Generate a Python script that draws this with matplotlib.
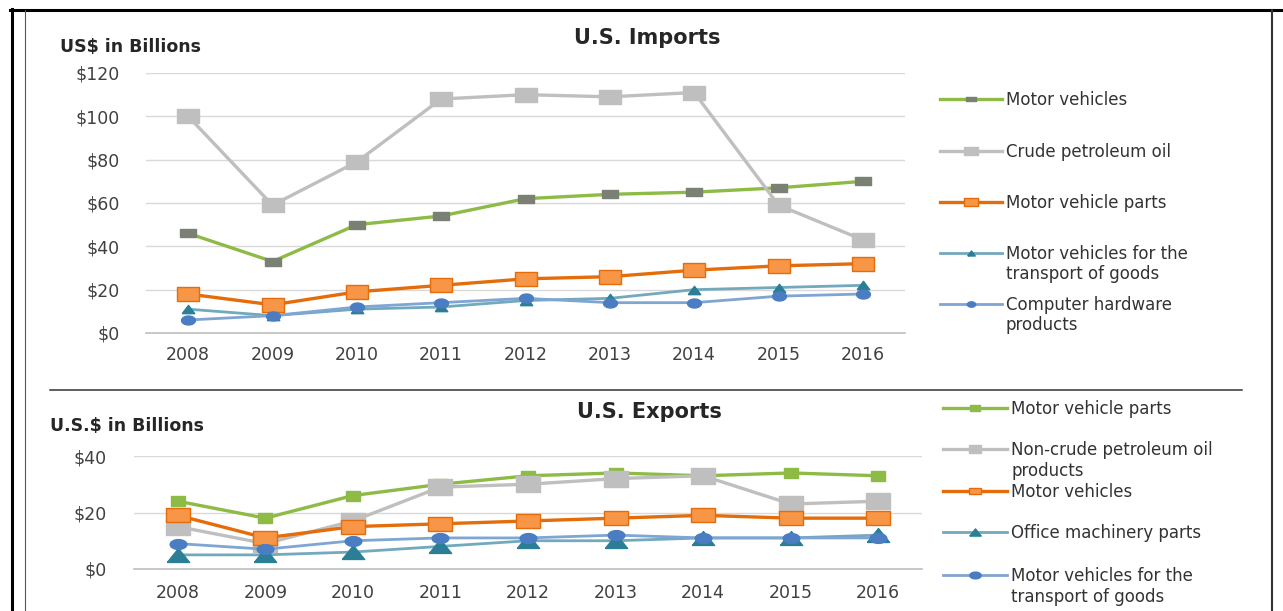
import matplotlib
matplotlib.use('Agg')
import matplotlib.pyplot as plt
from matplotlib.lines import Line2D
import numpy as np

plt.rcParams['font.family'] = ['DejaVu Sans']

W, H = 1283, 611

years = ['2008', '2009', '2010', '2011', '2012', '2013', '2014', '2015', '2016']

# imports, US$ billions
imp_motor_vehicles = [46, 33, 50, 54, 62, 64, 65, 67, 70]
imp_crude_oil = [100, 59, 79, 108, 110, 109, 111, 59, 43]
imp_vehicle_parts = [18, 13, 19, 22, 25, 26, 29, 31, 32]
imp_transport_goods = [11, 8, 11, 12, 15, 16, 20, 21, 22]
imp_computer_hw = [6, 8, 12, 14, 16, 14, 14, 17, 18]

# exports, US$ billions
exp_vehicle_parts = [24, 18, 26, 30, 33, 34, 33, 34, 33]
exp_noncrude_oil = [15, 9, 17, 29, 30, 32, 33, 23, 24]
exp_motor_vehicles = [19, 11, 15, 16, 17, 18, 19, 18, 18]
exp_office_parts = [5, 5, 6, 8, 10, 10, 11, 11, 12]
exp_transport_goods = [9, 7, 10, 11, 11, 12, 11, 11, 11]

imp_labels = ['Motor vehicles', 'Crude petroleum oil', 'Motor vehicle parts',
              'Motor vehicles for the\ntransport of goods',
              'Computer hardware\nproducts']
exp_labels = ['Motor vehicle parts', 'Non-crude petroleum oil\nproducts',
              'Motor vehicles', 'Office machinery parts',
              'Motor vehicles for the\ntransport of goods']

# the source picture is stretched sideways, so the markers are too
def wide(shape, r):
    if shape == 's':
        return [(-r, -1), (r, -1), (r, 1), (-r, 1), (-r, -1)]
    if shape == '^':
        return [(-r, -1), (r, -1), (0, 1), (-r, -1)]
    t = np.linspace(0, 2 * np.pi, 40)
    return list(zip(r * np.cos(t), np.sin(t)))

GREEN = '#8DBB45'
GRAY = '#BFBFBF'
ORANGE = '#E46C0A'
ORANGE_F = '#F79646'
TEAL = '#72A9BD'
TEAL_M = '#2A7E95'
BLUE = '#7FA5D3'
BLUE_M = '#4A7DC2'
TXT = '#333333'
LEG_FS = 12
FS_PX = LEG_FS * 100 / 72


def px_axes(l, t, r, b):
    return fig.add_axes([l / W, 1 - b / H, (r - l) / W, (b - t) / H])


def style(ax, top, ypad, xpad, step):
    ax.set_xlim(-0.5, 8.5)
    ax.set_ylim(0, top)
    ax.set_yticks(range(0, top + 1, step))
    ax.set_yticklabels(['$' + str(v) for v in range(0, top + 1, step)])
    ax.set_xticks(range(len(years)))
    ax.set_xticklabels(years)
    for s in ['top', 'right', 'left']:
        ax.spines[s].set_visible(False)
    ax.spines['bottom'].set_color('#BFBFBF')
    ax.spines['bottom'].set_linewidth(1.2)
    ax.yaxis.grid(True, color='#D9D9D9', lw=1)
    ax.set_axisbelow(True)
    ax.tick_params(axis='y', length=0, pad=ypad, labelsize=12.5, colors='#404040')
    ax.tick_params(axis='x', length=0, pad=xpad, labelsize=12.5, colors='#404040')


def add_legend(handle, label, x, y, hl, gap):
    lines = label.split('\n')
    leg = fig.legend([handle], [lines[0]], loc='center left',
                     bbox_to_anchor=(x / W, 1 - y / H), frameon=False,
                     borderpad=0, borderaxespad=0, handlelength=hl,
                     handletextpad=0.25, fontsize=LEG_FS)
    for t in leg.get_texts():
        t.set_color(TXT)
    tx = x + (hl + 0.25) * FS_PX
    for i, extra in enumerate(lines[1:]):
        fig.text(tx / W, 1 - (y + gap * (i + 1)) / H, extra, ha='left',
                 va='center', fontsize=LEG_FS, color=TXT)


fig = plt.figure(figsize=(W / 100, H / 100), dpi=100)
x = range(len(years))

# ---------------- imports
ax1 = px_axes(146, 73, 905, 333)
imp_styles = [
    (imp_motor_vehicles, GREEN, wide('s', 2.1), 11, '#7A8074', '#7A8074', 2.4),
    (imp_crude_oil, GRAY, wide('s', 1.6), 16, GRAY, GRAY, 2.4),
    (imp_vehicle_parts, ORANGE, wide('s', 1.7), 16.5, ORANGE_F, ORANGE, 2.4),
    (imp_transport_goods, TEAL, wide('^', 1.5), 9, TEAL_M, TEAL_M, 2.0),
    (imp_computer_hw, BLUE, wide('o', 1.55), 10, BLUE_M, BLUE_M, 2.0),
]
imp_handles = []
for vals, c, m, ms, mf, me, lw in imp_styles:
    ax1.plot(x, vals, color=c, lw=lw, marker=m, ms=ms, mfc=mf, mec=me, mew=1)
    imp_handles.append(Line2D([], [], color=c, lw=lw, marker=m, ms=ms * 0.6,
                              mfc=mf, mec=me))
style(ax1, 120, 18.7, 9.5, 20)

fig.text(647 / W, 1 - 38 / H, 'U.S. Imports', ha='center', va='center',
         fontsize=15, fontweight='bold', color='#262626')
fig.text(60 / W, 1 - 47 / H, 'US$ in Billions', ha='left', va='center',
         fontsize=12.5, fontweight='bold', color='#262626')

for h, lab, y in zip(imp_handles, imp_labels, [100, 152, 203, 254, 305]):
    add_legend(h, lab, 940, y, 3.7, 20)

# ---------------- exports
ax2 = px_axes(134, 456, 922, 569)
exp_styles = [
    (exp_vehicle_parts, GREEN, wide('s', 1.6), 10.5, GREEN, GREEN, 2.4),
    (exp_noncrude_oil, GRAY, wide('s', 1.6), 17.5, GRAY, GRAY, 2.4),
    (exp_motor_vehicles, ORANGE, wide('s', 1.8), 17.5, ORANGE_F, ORANGE, 2.4),
    (exp_office_parts, TEAL, wide('^', 1.6), 16, TEAL_M, TEAL_M, 2.0),
    (exp_transport_goods, BLUE, wide('o', 1.7), 12, BLUE_M, BLUE_M, 2.0),
]
exp_handles = []
for vals, c, m, ms, mf, me, lw in exp_styles:
    ax2.plot(x, vals, color=c, lw=lw, marker=m, ms=ms, mfc=mf, mec=me, mew=1)
    exp_handles.append(Line2D([], [], color=c, lw=lw, marker=m, ms=min(ms, 11) * 0.75,
                              mfc=mf, mec=me))
style(ax2, 40, 19.4, 11, 20)

fig.text(649 / W, 1 - 412 / H, 'U.S. Exports', ha='center', va='center',
         fontsize=15, fontweight='bold', color='#262626')
fig.text(50 / W, 1 - 426 / H, 'U.S.$ in Billions', ha='left', va='center',
         fontsize=12.5, fontweight='bold', color='#262626')

for h, lab, y in zip(exp_handles, exp_labels, [409, 450, 492, 533, 576]):
    add_legend(h, lab, 943, y, 3.85, 21)

# ---------------- frame lines
def fline(x0, y0, x1, y1, lw, c):
    fig.add_artist(Line2D([x0 / W, x1 / W], [1 - y0 / H, 1 - y1 / H],
                          transform=fig.transFigure, lw=lw, color=c))

fline(10, 10, W, 10, 2.2, 'black')
fline(11.5, 9, 11.5, H, 2.2, 'black')
fline(25, 10, 25, H, 0.8, '#555555')
fline(1272, 10, 1272, H, 1.5, '#333333')
fline(50, 390, 1242, 390, 1.1, '#333333')

fig.savefig('out.png', dpi=100)
